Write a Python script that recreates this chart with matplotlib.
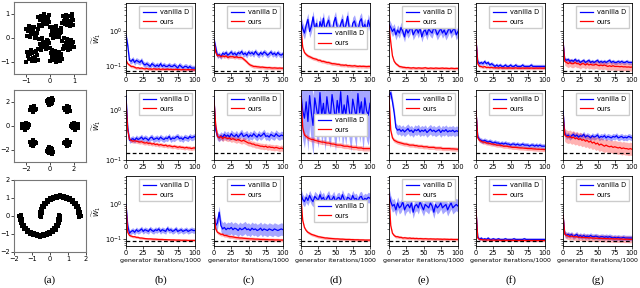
import matplotlib.pyplot as plt
import numpy as np

# ---------------- scatter data (column a) ----------------
checker_pts = [
    (-0.46, 0.54), (-0.38, 0.91), (-0.31, 0.62), (-0.22, 0.83), (-0.12, 0.57), (-0.05, 0.96), (-0.42, 0.73), (-0.27, 0.98),
    (-0.16, 0.69), (-0.08, 0.78), (-0.35, 0.51), (-0.48, 0.86), (-0.20, 0.60), (-0.03, 0.66), (-0.29, 0.75), (-0.11, 0.88),
    (0.53, 0.93), (0.61, 0.58), (0.72, 0.81), (0.84, 0.52), (0.95, 0.74), (0.58, 0.69), (0.67, 0.97), (0.79, 0.63),
    (0.90, 0.89), (0.97, 0.55), (0.64, 0.77), (0.75, 0.90), (0.86, 0.70), (0.52, 0.61), (0.93, 0.99), (0.70, 0.53),
    (-0.97, 0.08), (-0.89, 0.41), (-0.78, 0.17), (-0.66, 0.46), (-0.55, 0.22), (-0.93, 0.29), (-0.83, 0.03), (-0.71, 0.33),
    (-0.60, 0.11), (-0.52, 0.38), (-0.86, 0.49), (-0.74, 0.25), (-0.63, 0.02), (-0.99, 0.36), (-0.68, 0.15), (-0.80, 0.44),
    (0.04, 0.12), (0.13, 0.44), (0.22, 0.06), (0.31, 0.35), (0.42, 0.19), (0.08, 0.28), (0.18, 0.21), (0.27, 0.48),
    (0.38, 0.03), (0.47, 0.41), (0.11, 0.01), (0.24, 0.31), (0.35, 0.14), (0.45, 0.27), (0.02, 0.47), (0.29, 0.09),
    (-0.47, -0.06), (-0.39, -0.38), (-0.28, -0.15), (-0.17, -0.47), (-0.06, -0.22), (-0.43, -0.27), (-0.33, -0.02), (-0.22, -0.33),
    (-0.11, -0.09), (-0.02, -0.41), (-0.36, -0.49), (-0.25, -0.19), (-0.14, -0.30), (-0.49, -0.44), (-0.08, -0.13), (-0.30, -0.36),
    (0.52, -0.11), (0.63, -0.43), (0.71, -0.04), (0.82, -0.29), (0.94, -0.16), (0.57, -0.34), (0.68, -0.21), (0.77, -0.48),
    (0.88, -0.07), (0.98, -0.39), (0.60, -0.01), (0.74, -0.37), (0.85, -0.45), (0.91, -0.25), (0.54, -0.47), (0.80, -0.13),
    (-0.96, -0.57), (-0.87, -0.88), (-0.76, -0.63), (-0.64, -0.96), (-0.53, -0.71), (-0.92, -0.75), (-0.81, -0.52), (-0.70, -0.82),
    (-0.58, -0.55), (-0.51, -0.93), (-0.98, -0.99), (-0.84, -0.68), (-0.73, -0.94), (-0.61, -0.78), (-0.89, -0.61), (-0.67, -0.59),
    (0.03, -0.62), (0.12, -0.93), (0.21, -0.54), (0.33, -0.81), (0.44, -0.66), (0.07, -0.79), (0.17, -0.71), (0.26, -0.98),
    (0.38, -0.58), (0.48, -0.89), (0.09, -0.51), (0.23, -0.85), (0.31, -0.68), (0.41, -0.97), (0.01, -0.95), (0.46, -0.76),
]

rings_pts = [
    (2.1, 0.1), (1.9, -0.15), (2.25, -0.05), (1.8, 0.2), (2.05, -0.3), (2.3, 0.15), (1.95, 0.05), (2.15, -0.2), (1.85, -0.05), (2.0, 0.25), (2.35, -0.15), (1.75, 0.0),
    (1.5, 1.35), (1.3, 1.5), (1.45, 1.6), (1.6, 1.4), (1.25, 1.3), (1.4, 1.2), (1.55, 1.55), (1.35, 1.45), (1.7, 1.25), (1.2, 1.5), (1.5, 1.45), (1.4, 1.7),
    (0.1, 2.1), (-0.15, 1.95), (0.05, 1.8), (-0.05, 2.25), (0.2, 1.9), (-0.25, 2.05), (0.15, 2.3), (0.0, 2.0), (-0.1, 1.75), (0.25, 2.15), (-0.2, 2.2), (0.1, 1.95),
    (-1.5, 1.35), (-1.3, 1.5), (-1.45, 1.6), (-1.6, 1.4), (-1.25, 1.3), (-1.4, 1.2), (-1.55, 1.55), (-1.35, 1.45), (-1.7, 1.3), (-1.2, 1.45), (-1.45, 1.3), (-1.3, 1.65),
    (-2.1, 0.1), (-1.9, -0.15), (-2.25, -0.05), (-1.8, 0.2), (-2.05, -0.3), (-2.3, 0.15), (-1.95, 0.05), (-2.15, -0.2), (-1.85, -0.05), (-2.0, 0.25), (-2.3, -0.2), (-1.75, 0.05),
    (-1.5, -1.35), (-1.3, -1.5), (-1.45, -1.6), (-1.6, -1.4), (-1.25, -1.3), (-1.4, -1.2), (-1.55, -1.55), (-1.35, -1.45), (-1.7, -1.3), (-1.2, -1.45), (-1.45, -1.7), (-1.3, -1.35),
    (0.1, -2.1), (-0.15, -1.95), (0.05, -1.8), (-0.05, -2.25), (0.2, -1.9), (-0.25, -2.05), (0.15, -2.3), (0.0, -2.0), (-0.1, -1.75), (0.25, -2.15), (-0.2, -2.2), (0.1, -1.95),
    (1.5, -1.35), (1.3, -1.5), (1.45, -1.6), (1.6, -1.4), (1.25, -1.3), (1.4, -1.2), (1.55, -1.55), (1.35, -1.45), (1.7, -1.3), (1.2, -1.45), (1.45, -1.7), (1.3, -1.35),
]

moons_pts = [
    (-0.58, 0.02), (-0.50, -0.05), (-0.55, 0.21), (-0.47, 0.15), (-0.51, 0.40), (-0.42, 0.33), (-0.43, 0.58), (-0.35, 0.50),
    (-0.31, 0.75), (-0.24, 0.66), (-0.18, 0.88), (-0.12, 0.78), (0.01, 0.99), (0.03, 0.89), (0.16, 1.08), (0.19, 0.97),
    (0.35, 1.13), (0.38, 1.02), (0.54, 1.15), (0.57, 1.04), (0.75, 1.13), (0.72, 1.02), (0.95, 1.08), (0.90, 0.97),
    (1.13, 0.99), (1.07, 0.90), (1.30, 0.88), (1.22, 0.79), (1.43, 0.74), (1.35, 0.66), (1.55, 0.58), (1.45, 0.51),
    (1.63, 0.40), (1.53, 0.34), (1.68, 0.20), (1.58, 0.16), (1.70, 0.01), (1.60, -0.04),
    (0.58, -0.02), (0.50, 0.05), (0.55, -0.21), (0.47, -0.15), (0.51, -0.40), (0.42, -0.33), (0.43, -0.58), (0.35, -0.50),
    (0.31, -0.75), (0.24, -0.66), (0.18, -0.88), (0.12, -0.78), (-0.01, -0.99), (-0.03, -0.89), (-0.16, -1.08), (-0.19, -0.97),
    (-0.35, -1.13), (-0.38, -1.02), (-0.54, -1.15), (-0.57, -1.04), (-0.75, -1.13), (-0.72, -1.02), (-0.95, -1.08), (-0.90, -0.97),
    (-1.13, -0.99), (-1.07, -0.90), (-1.30, -0.88), (-1.22, -0.79), (-1.43, -0.74), (-1.35, -0.66), (-1.55, -0.58), (-1.45, -0.51),
    (-1.63, -0.40), (-1.53, -0.34), (-1.68, -0.20), (-1.58, -0.16), (-1.70, -0.01), (-1.60, 0.04),
]

# ---------------- W1 curves, sampled every 2.5k iterations ----------------
# row 1 (checkerboard)
blue_b1 = [0.80, 0.40, 0.15, 0.14, 0.16, 0.13, 0.15, 0.14, 0.13, 0.15, 0.12, 0.11, 0.12, 0.11, 0.10, 0.12, 0.11, 0.10, 0.11, 0.10, 0.12, 0.10, 0.11, 0.10, 0.10, 0.11, 0.10, 0.10, 0.11, 0.10, 0.09, 0.11, 0.10, 0.09, 0.10, 0.10, 0.09, 0.10, 0.09, 0.09, 0.09]
red_b1 = [0.15, 0.12, 0.11, 0.10, 0.10, 0.095, 0.09, 0.092, 0.088, 0.09, 0.087, 0.085, 0.088, 0.084, 0.085, 0.083, 0.086, 0.084, 0.083, 0.085, 0.082, 0.084, 0.083, 0.082, 0.084, 0.082, 0.083, 0.081, 0.082, 0.083, 0.081, 0.082, 0.080, 0.082, 0.081, 0.080, 0.082, 0.080, 0.081, 0.080, 0.080]
blue_c1 = [0.60, 0.35, 0.20, 0.22, 0.19, 0.24, 0.22, 0.25, 0.21, 0.23, 0.26, 0.22, 0.24, 0.21, 0.25, 0.23, 0.27, 0.22, 0.24, 0.21, 0.26, 0.23, 0.25, 0.22, 0.27, 0.23, 0.21, 0.25, 0.22, 0.26, 0.24, 0.21, 0.23, 0.26, 0.22, 0.24, 0.21, 0.25, 0.22, 0.21, 0.23]
red_c1 = [0.55, 0.25, 0.20, 0.21, 0.19, 0.20, 0.19, 0.20, 0.18, 0.19, 0.19, 0.19, 0.18, 0.19, 0.18, 0.18, 0.18, 0.165, 0.15, 0.135, 0.12, 0.11, 0.105, 0.10, 0.10, 0.098, 0.097, 0.095, 0.096, 0.094, 0.093, 0.092, 0.093, 0.091, 0.090, 0.091, 0.090, 0.089, 0.090, 0.089, 0.089]
blue_d1 = [1.8, 1.2, 0.9, 1.5, 2.2, 1.0, 1.4, 2.6, 1.1, 1.7, 0.8, 1.9, 1.3, 2.4, 1.0, 1.6, 2.1, 1.2, 0.9, 1.8, 2.5, 1.3, 1.0, 1.6, 2.2, 1.1, 1.5, 2.7, 1.2, 0.9, 1.7, 2.0, 1.3, 1.0, 1.9, 2.3, 1.2, 1.6, 1.0, 2.1, 1.4]
red_d1 = [1.2, 0.35, 0.25, 0.22, 0.20, 0.19, 0.18, 0.17, 0.165, 0.16, 0.15, 0.15, 0.14, 0.14, 0.135, 0.13, 0.13, 0.125, 0.12, 0.12, 0.118, 0.115, 0.115, 0.11, 0.11, 0.108, 0.11, 0.105, 0.106, 0.104, 0.103, 0.105, 0.102, 0.10, 0.102, 0.10, 0.101, 0.10, 0.099, 0.10, 0.10]
blue_e1 = [1.6, 1.3, 1.0, 1.2, 0.8, 1.1, 0.9, 1.3, 1.0, 0.7, 1.2, 0.9, 1.1, 1.4, 0.8, 1.0, 1.2, 0.9, 1.3, 0.7, 1.0, 1.1, 0.8, 1.2, 1.0, 0.9, 1.3, 1.1, 0.8, 1.0, 1.2, 0.9, 1.1, 0.8, 1.0, 1.3, 0.9, 1.1, 1.2, 0.8, 1.0]
red_e1 = [1.5, 0.5, 0.2, 0.14, 0.12, 0.11, 0.10, 0.098, 0.095, 0.094, 0.092, 0.093, 0.091, 0.090, 0.092, 0.090, 0.089, 0.091, 0.090, 0.089, 0.090, 0.092, 0.089, 0.088, 0.090, 0.089, 0.088, 0.090, 0.089, 0.088, 0.089, 0.090, 0.088, 0.089, 0.088, 0.087, 0.089, 0.088, 0.087, 0.088, 0.088]
blue_f1 = [0.6, 0.14, 0.12, 0.13, 0.12, 0.14, 0.12, 0.13, 0.11, 0.12, 0.11, 0.10, 0.11, 0.10, 0.11, 0.10, 0.10, 0.11, 0.10, 0.10, 0.11, 0.10, 0.10, 0.11, 0.10, 0.10, 0.10, 0.11, 0.10, 0.10, 0.10, 0.10, 0.11, 0.10, 0.10, 0.10, 0.10, 0.10, 0.10, 0.10, 0.10]
red_f1 = [0.6, 0.12, 0.10, 0.10, 0.095, 0.10, 0.093, 0.095, 0.092, 0.094, 0.091, 0.092, 0.091, 0.090, 0.092, 0.090, 0.091, 0.090, 0.090, 0.091, 0.090, 0.089, 0.090, 0.091, 0.089, 0.090, 0.089, 0.090, 0.089, 0.090, 0.090, 0.089, 0.090, 0.089, 0.089, 0.090, 0.089, 0.090, 0.089, 0.089, 0.090]
blue_g1 = [0.55, 0.16, 0.15, 0.16, 0.14, 0.15, 0.14, 0.16, 0.14, 0.15, 0.13, 0.14, 0.15, 0.13, 0.14, 0.15, 0.13, 0.14, 0.13, 0.14, 0.15, 0.13, 0.14, 0.13, 0.14, 0.13, 0.14, 0.15, 0.13, 0.14, 0.13, 0.13, 0.14, 0.13, 0.14, 0.13, 0.13, 0.14, 0.13, 0.13, 0.13]
red_g1 = [0.5, 0.14, 0.13, 0.12, 0.13, 0.12, 0.12, 0.13, 0.12, 0.12, 0.11, 0.12, 0.12, 0.11, 0.12, 0.11, 0.115, 0.11, 0.11, 0.115, 0.11, 0.105, 0.11, 0.105, 0.11, 0.105, 0.10, 0.105, 0.10, 0.105, 0.10, 0.10, 0.10, 0.098, 0.10, 0.097, 0.098, 0.096, 0.097, 0.095, 0.096]

# row 2 (rings)
blue_b2 = [2.0, 0.45, 0.25, 0.26, 0.27, 0.25, 0.28, 0.26, 0.27, 0.29, 0.26, 0.28, 0.27, 0.25, 0.28, 0.29, 0.26, 0.27, 0.28, 0.26, 0.29, 0.27, 0.26, 0.28, 0.27, 0.30, 0.26, 0.28, 0.27, 0.29, 0.30, 0.27, 0.28, 0.26, 0.29, 0.28, 0.27, 0.30, 0.28, 0.29, 0.30]
red_b2 = [1.5, 0.40, 0.26, 0.25, 0.24, 0.245, 0.24, 0.235, 0.23, 0.235, 0.225, 0.22, 0.225, 0.215, 0.22, 0.21, 0.215, 0.205, 0.21, 0.20, 0.205, 0.20, 0.195, 0.20, 0.19, 0.195, 0.19, 0.185, 0.19, 0.185, 0.18, 0.185, 0.18, 0.18, 0.175, 0.18, 0.175, 0.175, 0.17, 0.175, 0.175]
blue_c2 = [1.8, 0.4, 0.30, 0.28, 0.31, 0.29, 0.33, 0.30, 0.32, 0.29, 0.34, 0.31, 0.30, 0.33, 0.29, 0.32, 0.35, 0.30, 0.31, 0.33, 0.29, 0.32, 0.30, 0.34, 0.31, 0.29, 0.33, 0.30, 0.32, 0.35, 0.30, 0.31, 0.29, 0.33, 0.31, 0.30, 0.34, 0.31, 0.30, 0.32, 0.31]
red_c2 = [1.6, 0.5, 0.30, 0.28, 0.30, 0.27, 0.29, 0.28, 0.27, 0.28, 0.26, 0.27, 0.26, 0.25, 0.26, 0.25, 0.24, 0.25, 0.24, 0.23, 0.22, 0.22, 0.21, 0.21, 0.20, 0.20, 0.195, 0.19, 0.19, 0.185, 0.19, 0.18, 0.185, 0.18, 0.18, 0.175, 0.18, 0.175, 0.17, 0.175, 0.17]
blue_d2 = [2.2, 1.0, 0.7, 1.5, 0.6, 2.0, 0.9, 0.5, 1.8, 1.1, 0.7, 2.3, 0.8, 1.4, 0.6, 1.9, 1.0, 0.7, 2.1, 1.2, 0.6, 1.6, 0.9, 2.4, 0.7, 1.3, 0.8, 2.0, 1.0, 0.6, 1.7, 1.1, 0.7, 2.2, 0.9, 1.5, 0.6, 1.8, 1.0, 0.8, 1.4]
red_d2 = [2.0, 0.45, 0.32, 0.30, 0.28, 0.27, 0.26, 0.26, 0.25, 0.245, 0.24, 0.235, 0.23, 0.23, 0.225, 0.22, 0.22, 0.215, 0.21, 0.21, 0.205, 0.20, 0.20, 0.20, 0.195, 0.19, 0.19, 0.19, 0.185, 0.185, 0.18, 0.18, 0.18, 0.175, 0.175, 0.175, 0.17, 0.17, 0.17, 0.17, 0.17]
blue_e2 = [2.0, 2.3, 1.5, 0.9, 0.45, 0.40, 0.42, 0.38, 0.41, 0.37, 0.40, 0.43, 0.38, 0.40, 0.36, 0.41, 0.39, 0.42, 0.37, 0.40, 0.38, 0.41, 0.36, 0.39, 0.42, 0.38, 0.40, 0.37, 0.39, 0.41, 0.36, 0.40, 0.38, 0.41, 0.37, 0.39, 0.38, 0.40, 0.37, 0.39, 0.38]
red_e2 = [2.0, 0.40, 0.28, 0.25, 0.24, 0.23, 0.225, 0.22, 0.215, 0.21, 0.21, 0.205, 0.20, 0.20, 0.20, 0.195, 0.195, 0.19, 0.19, 0.19, 0.185, 0.185, 0.185, 0.18, 0.18, 0.18, 0.18, 0.175, 0.175, 0.175, 0.175, 0.17, 0.17, 0.17, 0.17, 0.17, 0.168, 0.168, 0.167, 0.166, 0.165]
blue_f2 = [1.0, 0.30, 0.26, 0.25, 0.24, 0.25, 0.24, 0.23, 0.24, 0.23, 0.22, 0.23, 0.22, 0.22, 0.21, 0.22, 0.21, 0.22, 0.21, 0.21, 0.20, 0.21, 0.21, 0.20, 0.21, 0.20, 0.20, 0.21, 0.20, 0.20, 0.20, 0.19, 0.20, 0.20, 0.19, 0.20, 0.19, 0.20, 0.19, 0.19, 0.19]
red_f2 = [1.0, 0.28, 0.25, 0.24, 0.23, 0.23, 0.22, 0.22, 0.215, 0.21, 0.21, 0.205, 0.20, 0.20, 0.20, 0.195, 0.19, 0.19, 0.19, 0.185, 0.185, 0.18, 0.18, 0.18, 0.178, 0.176, 0.175, 0.175, 0.173, 0.172, 0.17, 0.17, 0.17, 0.168, 0.167, 0.166, 0.165, 0.165, 0.164, 0.163, 0.162]
blue_g2 = [1.0, 0.35, 0.30, 0.32, 0.29, 0.31, 0.33, 0.30, 0.32, 0.29, 0.31, 0.30, 0.33, 0.29, 0.31, 0.30, 0.28, 0.31, 0.29, 0.30, 0.32, 0.28, 0.30, 0.29, 0.31, 0.28, 0.30, 0.29, 0.28, 0.30, 0.29, 0.31, 0.28, 0.29, 0.30, 0.28, 0.29, 0.28, 0.30, 0.29, 0.28]
red_g2 = [0.8, 0.32, 0.30, 0.29, 0.30, 0.28, 0.29, 0.27, 0.28, 0.26, 0.27, 0.25, 0.26, 0.24, 0.25, 0.23, 0.24, 0.22, 0.23, 0.21, 0.22, 0.20, 0.21, 0.20, 0.19, 0.20, 0.19, 0.185, 0.19, 0.18, 0.185, 0.18, 0.175, 0.18, 0.17, 0.175, 0.17, 0.17, 0.165, 0.17, 0.165]

# row 3 (moons)
blue_b3 = [1.0, 0.25, 0.15, 0.17, 0.18, 0.16, 0.19, 0.17, 0.18, 0.20, 0.17, 0.19, 0.18, 0.17, 0.20, 0.18, 0.17, 0.19, 0.18, 0.20, 0.17, 0.19, 0.18, 0.17, 0.21, 0.18, 0.19, 0.17, 0.18, 0.20, 0.17, 0.18, 0.19, 0.17, 0.18, 0.19, 0.17, 0.18, 0.19, 0.18, 0.18]
red_b3 = [0.9, 0.16, 0.13, 0.125, 0.12, 0.12, 0.115, 0.115, 0.11, 0.11, 0.108, 0.106, 0.105, 0.104, 0.104, 0.103, 0.102, 0.102, 0.101, 0.10, 0.10, 0.10, 0.099, 0.099, 0.098, 0.098, 0.097, 0.097, 0.097, 0.096, 0.096, 0.096, 0.095, 0.095, 0.095, 0.095, 0.094, 0.094, 0.094, 0.094, 0.094]
blue_c3 = [0.5, 0.25, 0.3, 0.6, 0.25, 0.2, 0.22, 0.19, 0.21, 0.2, 0.22, 0.19, 0.21, 0.2, 0.18, 0.21, 0.19, 0.2, 0.22, 0.19, 0.2, 0.18, 0.21, 0.19, 0.2, 0.18, 0.19, 0.21, 0.18, 0.2, 0.19, 0.18, 0.2, 0.19, 0.18, 0.2, 0.19, 0.18, 0.19, 0.2, 0.19]
red_c3 = [0.6, 0.2, 0.16, 0.15, 0.14, 0.14, 0.13, 0.13, 0.125, 0.12, 0.12, 0.118, 0.115, 0.113, 0.112, 0.11, 0.11, 0.108, 0.107, 0.106, 0.105, 0.104, 0.104, 0.103, 0.102, 0.102, 0.101, 0.10, 0.10, 0.10, 0.099, 0.099, 0.098, 0.098, 0.098, 0.097, 0.097, 0.097, 0.096, 0.096, 0.096]
blue_d3 = [2.0, 1.4, 1.2, 1.6, 1.3, 1.8, 1.4, 1.2, 1.7, 1.5, 1.3, 1.9, 1.4, 1.6, 1.2, 1.5, 1.8, 1.3, 1.4, 1.7, 1.2, 1.5, 1.6, 1.3, 1.9, 1.4, 1.2, 1.6, 1.5, 1.3, 1.8, 1.4, 1.5, 1.2, 1.6, 1.7, 1.3, 1.5, 1.4, 1.6, 1.5]
red_d3 = [1.5, 0.35, 0.22, 0.18, 0.16, 0.15, 0.14, 0.135, 0.13, 0.125, 0.12, 0.118, 0.115, 0.113, 0.11, 0.11, 0.108, 0.107, 0.106, 0.105, 0.104, 0.104, 0.103, 0.102, 0.102, 0.101, 0.10, 0.10, 0.10, 0.099, 0.099, 0.098, 0.098, 0.098, 0.097, 0.097, 0.097, 0.096, 0.096, 0.096, 0.096]
blue_e3 = [2.0, 1.2, 0.9, 1.0, 0.7, 1.1, 0.8, 0.9, 1.2, 0.7, 0.9, 1.0, 0.8, 1.1, 0.6, 0.9, 1.0, 0.8, 1.2, 0.9, 0.7, 1.0, 0.9, 0.8, 1.1, 0.9, 0.6, 1.0, 0.8, 0.9, 1.1, 0.8, 0.9, 1.0, 0.7, 0.9, 1.1, 0.8, 0.9, 1.0, 0.9]
red_e3 = [2.0, 0.25, 0.15, 0.13, 0.12, 0.12, 0.115, 0.115, 0.11, 0.112, 0.11, 0.108, 0.11, 0.107, 0.108, 0.106, 0.107, 0.105, 0.106, 0.105, 0.104, 0.105, 0.104, 0.103, 0.104, 0.103, 0.103, 0.102, 0.103, 0.102, 0.102, 0.101, 0.102, 0.101, 0.101, 0.10, 0.101, 0.10, 0.10, 0.10, 0.10]
blue_f3 = [0.7, 0.12, 0.10, 0.11, 0.10, 0.105, 0.10, 0.11, 0.10, 0.10, 0.105, 0.10, 0.10, 0.105, 0.10, 0.10, 0.10, 0.105, 0.10, 0.10, 0.10, 0.10, 0.105, 0.10, 0.10, 0.10, 0.10, 0.10, 0.105, 0.10, 0.10, 0.10, 0.10, 0.10, 0.10, 0.10, 0.10, 0.10, 0.10, 0.10, 0.10]
red_f3 = [0.7, 0.11, 0.10, 0.10, 0.097, 0.098, 0.096, 0.097, 0.096, 0.095, 0.096, 0.095, 0.095, 0.096, 0.095, 0.094, 0.095, 0.094, 0.095, 0.094, 0.094, 0.095, 0.094, 0.094, 0.093, 0.094, 0.094, 0.093, 0.094, 0.093, 0.093, 0.094, 0.093, 0.093, 0.093, 0.093, 0.093, 0.093, 0.093, 0.093, 0.093]
blue_g3 = [0.5, 0.15, 0.13, 0.14, 0.13, 0.14, 0.12, 0.13, 0.14, 0.12, 0.13, 0.12, 0.13, 0.12, 0.125, 0.12, 0.13, 0.12, 0.12, 0.125, 0.12, 0.115, 0.12, 0.12, 0.115, 0.12, 0.115, 0.12, 0.115, 0.11, 0.115, 0.11, 0.115, 0.11, 0.11, 0.115, 0.11, 0.11, 0.11, 0.11, 0.11]
red_g3 = [0.5, 0.14, 0.13, 0.125, 0.12, 0.125, 0.12, 0.118, 0.12, 0.115, 0.117, 0.113, 0.115, 0.112, 0.113, 0.11, 0.112, 0.109, 0.11, 0.108, 0.109, 0.107, 0.108, 0.106, 0.107, 0.105, 0.106, 0.104, 0.105, 0.104, 0.103, 0.104, 0.103, 0.102, 0.103, 0.102, 0.101, 0.102, 0.101, 0.10, 0.101]

# relative half-width of the shaded std bands (blue, red) per panel
spread_row1 = [(0.20, 0.10), (0.20, 0.12), (0.50, 0.12), (0.40, 0.10), (0.15, 0.10), (0.15, 0.30)]
spread_row2 = [(0.15, 0.10), (0.20, 0.15), (3.00, 0.12), (0.25, 0.10), (0.12, 0.10), (0.15, 0.35)]
spread_row3 = [(0.20, 0.08), (0.50, 0.12), (0.40, 0.10), (0.50, 0.10), (0.10, 0.08), (0.20, 0.25)]

true_w1 = [0.075, 0.14, 0.088]   # dashed reference level per row
col_labels = ['(a)', '(b)', '(c)', '(d)', '(e)', '(f)', '(g)']

blue_rows = [[blue_b1, blue_c1, blue_d1, blue_e1, blue_f1, blue_g1],
             [blue_b2, blue_c2, blue_d2, blue_e2, blue_f2, blue_g2],
             [blue_b3, blue_c3, blue_d3, blue_e3, blue_f3, blue_g3]]
red_rows = [[red_b1, red_c1, red_d1, red_e1, red_f1, red_g1],
            [red_b2, red_c2, red_d2, red_e2, red_f2, red_g2],
            [red_b3, red_c3, red_d3, red_e3, red_f3, red_g3]]
spread_rows = [spread_row1, spread_row2, spread_row3]
scatter_sets = [checker_pts, rings_pts, moons_pts]

# ---------------- layout ----------------
W, H = 640, 288
fig = plt.figure(figsize=(6.4, 2.88), dpi=100)


def rect(l, t, w, h):
    return [l / W, 1 - (t + h) / H, w / W, h / H]


scatter_tops = [2, 90, 180]
scatter_lims = [(-1.5, 1.5), (-3, 3), (-2, 2)]
scatter_ticks = [[-1, 0, 1], [-2, 0, 2], [-2, -1, 0, 1, 2]]
scatter_size = [7, 10, 10]
line_lefts = [126, 214, 301, 389, 476, 563]
line_tops = [3, 90, 176]
line_w, line_h = 69, 70
ylims = [(0.065, 6.5), (0.1, 2.6), (0.065, 6.5)]
legend_locs = ['upper right', 'upper right', 'center right', 'upper right', 'upper right', 'upper right']
fs = 4.8

for r in range(3):
    # scatter panel
    ax = fig.add_axes(rect(14, scatter_tops[r], 72, 72))
    pts = np.array(scatter_sets[r])
    ax.scatter(pts[:, 0], pts[:, 1], s=scatter_size[r], c='black', marker='s', linewidths=0)
    ax.set_xlim(scatter_lims[r])
    ax.set_ylim(scatter_lims[r])
    ax.set_xticks(scatter_ticks[r])
    ax.set_yticks(scatter_ticks[r])
    ax.tick_params(labelsize=fs, length=2, width=0.5, pad=1)
    for sp in ax.spines.values():
        sp.set_color('#777777')
        sp.set_linewidth(0.8)

    # curve panels
    for c in range(6):
        ax = fig.add_axes(rect(line_lefts[c], line_tops[r], line_w, line_h))
        blue = np.array(blue_rows[r][c])
        red = np.array(red_rows[r][c])
        sb, sr = spread_rows[r][c]
        xb = np.linspace(0, 100, len(blue))
        xr = np.linspace(0, 100, len(red))
        ax.fill_between(xb, blue / (1 + sb), blue * (1 + sb), color='blue', alpha=0.35, lw=0)
        ax.fill_between(xr, red / (1 + sr), red * (1 + sr), color='red', alpha=0.3, lw=0)
        ax.plot(xb, blue, color='blue', lw=0.9, label='vanilla D')
        ax.plot(xr, red, color='red', lw=0.9, label='ours')
        ax.axhline(true_w1[r], color='black', ls='--', lw=0.9, dashes=(3, 2))
        ax.set_yscale('log')
        ax.set_xlim(0, 100)
        ax.set_ylim(ylims[r])
        ax.set_xticks([0, 25, 50, 75, 100])
        ax.tick_params(labelsize=fs, length=2, width=0.5, pad=1)
        ax.tick_params(which='minor', length=1.2, width=0.4)
        if c == 0:
            ax.set_ylabel(r'$\widetilde{W}_1$', fontsize=fs, labelpad=1)
        else:
            ax.tick_params(which='both', labelleft=False)
        if r == 2:
            ax.set_xlabel('generator iterations/1000', fontsize=4.5, labelpad=1.5)
        for sp in ax.spines.values():
            sp.set_linewidth(0.6)
        ax.legend(loc=legend_locs[c], fontsize=fs, handlelength=2.0, borderpad=0.5,
                  labelspacing=0.55, handletextpad=0.6, framealpha=1, edgecolor='#cccccc',
                  fancybox=False, borderaxespad=0.4)

label_x = [50, 161, 249, 336, 424, 511, 598]
for lx, lab in zip(label_x, col_labels):
    fig.text(lx / W, 1 - 280 / H, lab, ha='center', va='center', fontsize=8,
             family='Liberation Serif')

fig.savefig('out.png', dpi=100)
